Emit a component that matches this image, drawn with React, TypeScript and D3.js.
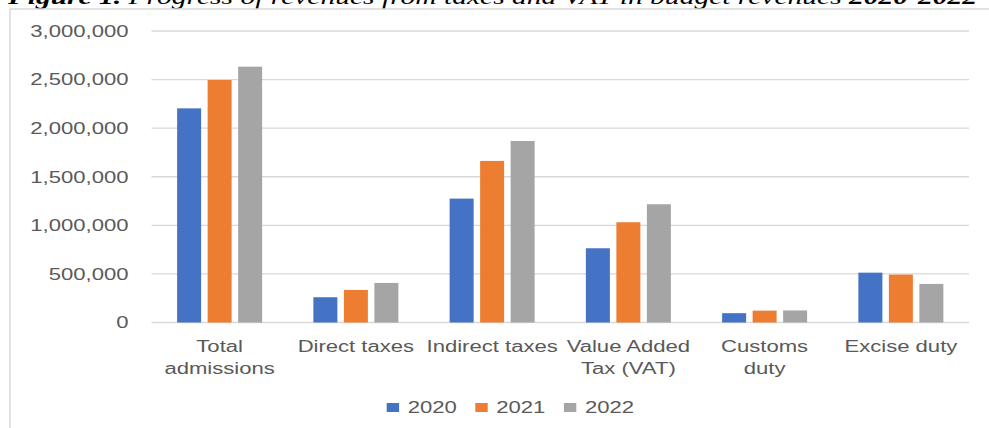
import React from "react";
import * as d3 from "d3";

const categories: string[][] = [
  ["Total", "admissions"],
  ["Direct taxes"],
  ["Indirect taxes"],
  ["Value Added", "Tax (VAT)"],
  ["Customs", "duty"],
  ["Excise duty"],
];
const years = ["2020", "2021", "2022"];
const values2020 = [2204000, 260000, 1275000, 764000, 96000, 513000];
const values2021 = [2496000, 335000, 1663000, 1032000, 122000, 493000];
const values2022 = [2633000, 407000, 1868000, 1217000, 124000, 397000];
const yTicks = [0, 500000, 1000000, 1500000, 2000000, 2500000, 3000000];
const colors = ["#4472C4", "#ED7D31", "#A5A5A5"];

const W = 989;
const H = 428;
const SX = 1.38; // horizontal stretch of the picture
const FONT = "'Liberation Sans', Arial, sans-serif";
const TEXT = "#595959";

export default function App() {
  const series = [values2020, values2021, values2022];
  const plotL = 151.5;
  const plotR = 969;
  const y = d3.scaleLinear().domain([0, 3000000]).range([322.5, 31]);
  const x0 = d3
    .scaleBand<number>()
    .domain(categories.map((_, i) => i))
    .range([plotL, plotR])
    .padding(0);
  const x1 = d3
    .scaleBand<string>()
    .domain(years)
    .range([-45.75, 45.75])
    .paddingInner(0.213)
    .paddingOuter(0.1065);
  const fmt = d3.format(",");

  const legendStart = 386.7;
  const legendStep = 88.6;

  return (
    <div style={{ position: "absolute", left: 0, top: 0, width: W, height: H, background: "#fff" }}>
      <svg width={W} height={H} style={{ display: "block" }}>
        <rect x={0} y={0} width={W} height={H} fill="#fff" />
        {/* title (cut at the top) */}
        <text
          x={8}
          y={3.5}
          fontFamily="'Liberation Serif', 'Times New Roman', serif"
          fontStyle="italic"
          fontSize={22}
          fill="#000"
          textLength={969}
          lengthAdjust="spacingAndGlyphs"
        >
          <tspan fontWeight="bold">Figure 1.</tspan>
          <tspan> Progress of revenues from taxes and VAT in budget revenues </tspan>
          <tspan fontWeight="bold">2020-2022</tspan>
        </text>
        {/* chart area border */}
        <line x1={10} x2={10} y1={9} y2={H} stroke="#d9d9d9" strokeWidth={1.5} />
        <line x1={10} x2={W} y1={9} y2={9} stroke="#d9d9d9" strokeWidth={1.5} />

        {/* gridlines */}
        {yTicks.map((t) => (
          <line
            key={t}
            x1={plotL}
            x2={plotR}
            y1={y(t)}
            y2={y(t)}
            stroke="#d9d9d9"
            strokeWidth={1.3}
          />
        ))}
        {/* y labels */}
        {yTicks.map((t) => (
          <text
            key={"l" + t}
            transform={`translate(128.5,${y(t) + 5.8}) scale(${SX},1)`}
            textAnchor="end"
            fontFamily={FONT}
            fontSize={16}
            fill={TEXT}
          >
            {fmt(t)}
          </text>
        ))}

        {/* bars */}
        {series.map((vals, si) =>
          vals.map((v, ci) => {
            const cx = (x0(ci) as number) + x0.bandwidth() / 2;
            const bx = cx + (x1(years[si]) as number);
            return (
              <rect
                key={si + "-" + ci}
                x={bx}
                y={y(v)}
                width={x1.bandwidth()}
                height={y(0) - y(v)}
                fill={colors[si]}
              />
            );
          })
        )}

        {/* x labels */}
        {categories.map((lines, ci) => {
          const cx = (x0(ci) as number) + x0.bandwidth() / 2;
          return lines.map((ln, li) => (
            <text
              key={ci + "-" + li}
              transform={`translate(${cx},${352.3 + li * 21.7}) scale(${SX},1)`}
              textAnchor="middle"
              fontFamily={FONT}
              fontSize={16}
              fill={TEXT}
            >
              {ln}
            </text>
          ));
        })}

        {/* legend */}
        {years.map((yr, i) => {
          const lx = legendStart + i * legendStep;
          return (
            <g key={yr}>
              <rect x={lx} y={403} width={12.4} height={9} fill={colors[i]} />
              <text
                transform={`translate(${lx + 21},413.3) scale(${SX},1)`}
                fontFamily={FONT}
                fontSize={16}
                fill={TEXT}
              >
                {yr}
              </text>
            </g>
          );
        })}
      </svg>
    </div>
  );
}
